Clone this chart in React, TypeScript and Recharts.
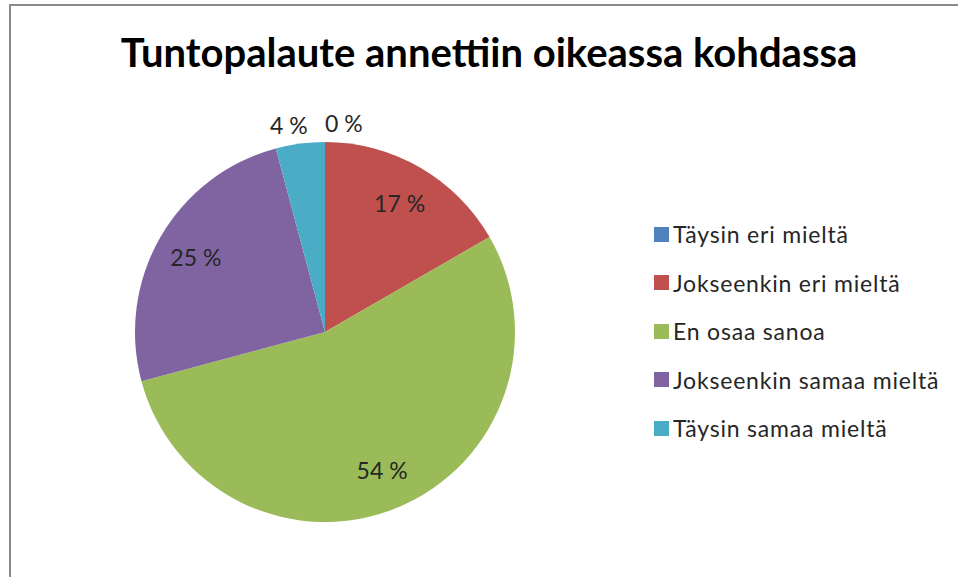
import React from 'react'
import { PieChart, Pie, Cell, Legend } from 'recharts'

const title = 'Tuntopalaute annettiin oikeassa kohdassa'
const categories = [
  'Täysin eri mieltä',
  'Jokseenkin eri mieltä',
  'En osaa sanoa',
  'Jokseenkin samaa mieltä',
  'Täysin samaa mieltä',
]
const counts = [0, 4, 13, 6, 1]
const colors = ['#4F81BD', '#C0504D', '#9BBB59', '#8064A2', '#4BACC6']

const data = categories.map((name, i) => ({ name, value: counts[i] }))

const FONT = 'Lato, "Open Sans", sans-serif'
const RADIAN = Math.PI / 180

const renderLabel = (props: any) => {
  const { cx, cy, midAngle, outerRadius, percent } = props
  const pct = Math.round(percent * 100)
  const small = percent < 0.1
  const r = small ? outerRadius + 19 : outerRadius * 0.785
  const x = cx + r * Math.cos(-midAngle * RADIAN)
  const y = cy + r * Math.sin(-midAngle * RADIAN)
  let anchor: 'start' | 'middle' | 'end' = 'middle'
  if (small) anchor = x >= cx - 0.5 ? 'start' : 'end'
  return (
    <text
      x={small && anchor === 'end' ? x + 10 : x}
      y={y}
      textAnchor={anchor}
      dominantBaseline="central"
      fill="#262626"
      fontSize={23}
      fontFamily={FONT}
    >
      {`${pct} %`}
    </text>
  )
}

const renderLegend = (props: any) => {
  const payload = [...(props.payload || [])].sort(
    (a: any, b: any) => categories.indexOf(a.value) - categories.indexOf(b.value)
  )
  return (
    <ul style={{ listStyle: 'none', margin: 0, padding: 0, fontFamily: FONT }}>
      {payload.map((entry: any, i: number) => (
        <li
          key={`leg-${i}`}
          style={{
            display: 'flex',
            alignItems: 'center',
            height: 48.5,
            fontSize: 23,
            letterSpacing: 0.8,
            color: '#262626',
            whiteSpace: 'nowrap',
          }}
        >
          <span
            style={{ display: 'inline-block', width: 15, height: 15, background: entry.color, marginRight: 4 }}
          />
          {entry.value}
        </li>
      ))}
    </ul>
  )
}

const App: React.FC = () => {
  return (
    <div style={{ position: 'absolute', left: 0, top: 0, width: 958, height: 577, background: '#fff', overflow: 'hidden' }}>
      <div
        style={{
          position: 'absolute',
          left: 9,
          top: 4,
          width: 1000,
          height: 700,
          borderLeft: '2px solid #8a8a8a',
          borderTop: '2px solid #8a8a8a',
        }}
      />
      <div
        style={{
          position: 'absolute',
          left: 0,
          top: 28,
          width: 978,
          textAlign: 'center',
          fontFamily: FONT,
          fontWeight: 700,
          fontSize: 40,
          color: '#000',
          whiteSpace: 'nowrap',
        }}
      >
        {title}
      </div>
      <div style={{ position: 'absolute', left: 0, top: 0 }}>
        <PieChart width={958} height={577} margin={{ top: 0, right: 0, bottom: 0, left: 0 }}>
          <Pie
            data={data}
            dataKey="value"
            nameKey="name"
            cx={325}
            cy={332}
            outerRadius={190}
            startAngle={90}
            endAngle={-270}
            stroke="none"
            label={renderLabel}
            labelLine={false}
            isAnimationActive={false}
          >
            {data.map((entry, index) => (
              <Cell key={`cell-${index}`} fill={colors[index]} />
            ))}
          </Pie>
          <Legend
            layout="vertical"
            align="right"
            verticalAlign="top"
            content={renderLegend}
            wrapperStyle={{ position: 'absolute', left: 654, top: 210, width: 300 }}
          />
        </PieChart>
      </div>
    </div>
  )
}

export default App
